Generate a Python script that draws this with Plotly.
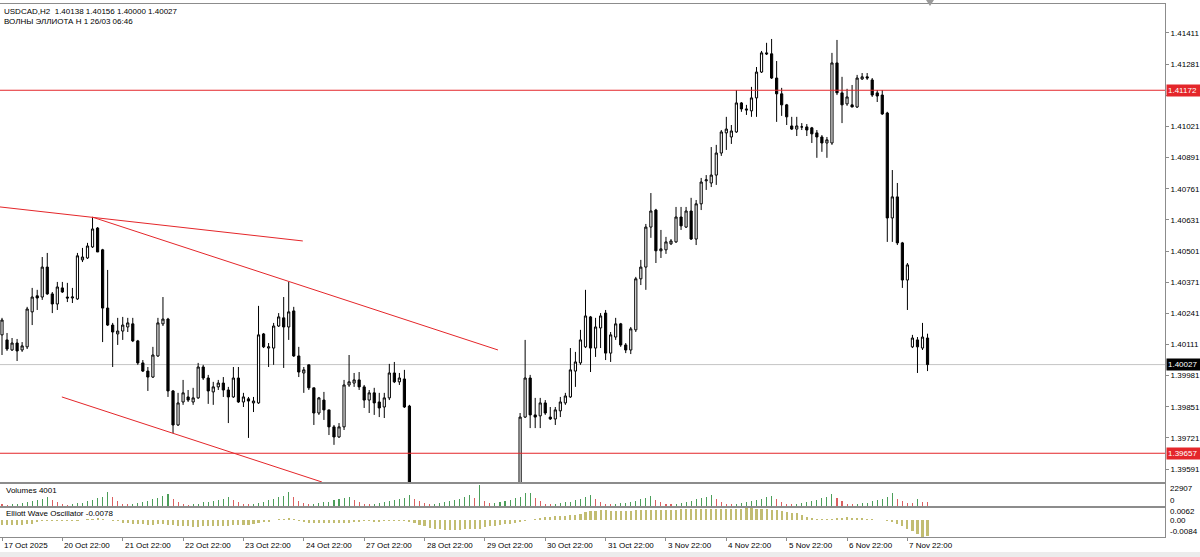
import plotly.graph_objects as go

# ---------------- DATA ----------------
header_line1 = "USDCAD,H2  1.40138 1.40156 1.40000 1.40027"
header_line2 = "ВОЛНЫ ЭЛЛИОТА H 1 26/03 06:46"

opens = [
    1.40151, 1.40130, 1.40088, 1.40117, 1.40088, 1.40101, 1.40247, 1.40314, 1.40309, 1.40434,
    1.40322, 1.40280, 1.40347, 1.40309, 1.40305, 1.40301, 1.40464, 1.40472, 1.40518, 1.40597,
    1.40506, 1.40263, 1.40192, 1.40155, 1.40167, 1.40184, 1.40197, 1.40126, 1.40034, 1.40000,
    1.39975, 1.40063, 1.40197, 1.40217, 1.39917, 1.39775, 1.39871, 1.39892, 1.39871, 1.39888,
    1.40017, 1.39971, 1.39913, 1.39934, 1.39950, 1.39921, 1.39892, 1.39971, 1.39871, 1.39884,
    1.39867, 1.39867, 1.40155, 1.40096, 1.40096, 1.40188, 1.40222, 1.40184, 1.40251, 1.40063,
    1.39992, 1.40026, 1.39930, 1.39825, 1.39879, 1.39838, 1.39767, 1.39725, 1.39767, 1.39942,
    1.39950, 1.39963, 1.39934, 1.39879, 1.39909, 1.39871, 1.39850, 1.39888, 1.39992, 1.39955,
    1.39967, 1.39854, 1.39320, 1.39360, 1.39340, 1.39310, 1.39350, 1.39380, 1.39360, 1.39320,
    1.39290, 1.39330, 1.39380, 1.39350, 1.39410, 1.39370, 1.39450, 1.39400, 1.39430, 1.39410,
    1.39440, 1.39460, 1.39430, 1.39470, 1.39808, 1.39971, 1.39817, 1.39813, 1.39867, 1.39808,
    1.39800, 1.39834, 1.39867, 1.39892, 1.40000, 1.40034, 1.40101, 1.40226, 1.40096, 1.40180,
    1.40242, 1.40075, 1.40142, 1.40197, 1.40109, 1.40088, 1.40172, 1.40385, 1.40434, 1.40601,
    1.40672, 1.40502, 1.40506, 1.40531, 1.40539, 1.40643, 1.40601, 1.40668, 1.40551, 1.40698,
    1.40794, 1.40785, 1.40818, 1.40910, 1.40994, 1.40977, 1.40998, 1.41119, 1.41094, 1.41086,
    1.41140, 1.41248, 1.41328, 1.41324, 1.41223, 1.41157, 1.41111, 1.41023, 1.41010, 1.41019,
    1.41019, 1.41015, 1.40994, 1.40977, 1.40952, 1.40952, 1.41286, 1.41161, 1.41115, 1.41111,
    1.41102, 1.41219, 1.41228, 1.41215, 1.41161, 1.41152, 1.41077, 1.40639, 1.40727, 1.40535,
    1.40380, 1.40101, 1.40130, 1.40096, 1.40138,
]
highs = [
    1.40222, 1.40159, 1.40138, 1.40134, 1.40121, 1.40268, 1.40347, 1.40339, 1.40476, 1.40493,
    1.40330, 1.40372, 1.40372, 1.40368, 1.40347, 1.40493, 1.40514, 1.40535, 1.40643, 1.40601,
    1.40510, 1.40422, 1.40201, 1.40222, 1.40226, 1.40222, 1.40222, 1.40130, 1.40046, 1.40017,
    1.40101, 1.40222, 1.40309, 1.40222, 1.39921, 1.39909, 1.39963, 1.39921, 1.39930, 1.40034,
    1.40026, 1.39984, 1.39955, 1.39963, 1.39975, 1.39934, 1.40017, 1.40017, 1.39909, 1.39892,
    1.39892, 1.40272, 1.40159, 1.40117, 1.40201, 1.40242, 1.40309, 1.40372, 1.40268, 1.40101,
    1.40017, 1.40026, 1.39930, 1.39892, 1.39913, 1.39838, 1.39775, 1.39783, 1.39963, 1.40067,
    1.39992, 1.39996, 1.39942, 1.39921, 1.39930, 1.39909, 1.39909, 1.40030, 1.40038, 1.39992,
    1.40005, 1.39859, 1.39400, 1.39420, 1.39390, 1.39370, 1.39410, 1.39440, 1.39400, 1.39380,
    1.39360, 1.39410, 1.39460, 1.39440, 1.39480, 1.39510, 1.39500, 1.39460, 1.39490, 1.39470,
    1.39500, 1.39510, 1.39500, 1.39825, 1.40130, 1.39984, 1.39888, 1.39888, 1.39879, 1.39850,
    1.39850, 1.39892, 1.39909, 1.40096, 1.40080, 1.40172, 1.40339, 1.40230, 1.40222, 1.40242,
    1.40255, 1.40163, 1.40222, 1.40201, 1.40117, 1.40184, 1.40393, 1.40464, 1.40614, 1.40743,
    1.40677, 1.40589, 1.40560, 1.40551, 1.40685, 1.40685, 1.40685, 1.40723, 1.40714, 1.40806,
    1.40818, 1.40935, 1.40944, 1.41006, 1.41061, 1.41027, 1.41173, 1.41123, 1.41111, 1.41186,
    1.41269, 1.41336, 1.41370, 1.41386, 1.41294, 1.41182, 1.41115, 1.41061, 1.41061, 1.41035,
    1.41031, 1.41019, 1.41006, 1.40985, 1.40977, 1.41328, 1.41382, 1.41228, 1.41178, 1.41194,
    1.41236, 1.41244, 1.41244, 1.41223, 1.41173, 1.41173, 1.41082, 1.40839, 1.40785, 1.40539,
    1.40451, 1.40151, 1.40142, 1.40201, 1.40156,
]
lows = [
    1.40067, 1.40084, 1.40084, 1.40042, 1.40080, 1.40092, 1.40192, 1.40255, 1.40297, 1.40318,
    1.40242, 1.40255, 1.40326, 1.40288, 1.40284, 1.40297, 1.40455, 1.40468, 1.40514, 1.40497,
    1.40121, 1.40188, 1.40017, 1.40109, 1.40130, 1.40163, 1.40121, 1.40026, 1.39996, 1.39917,
    1.39971, 1.40059, 1.40188, 1.39892, 1.39741, 1.39771, 1.39859, 1.39871, 1.39859, 1.39884,
    1.39963, 1.39863, 1.39859, 1.39921, 1.39892, 1.39783, 1.39888, 1.39867, 1.39850, 1.39721,
    1.39829, 1.39863, 1.40096, 1.40017, 1.40026, 1.40184, 1.40013, 1.40130, 1.40059, 1.39975,
    1.39909, 1.39921, 1.39775, 1.39817, 1.39796, 1.39733, 1.39692, 1.39721, 1.39754, 1.39934,
    1.39934, 1.39921, 1.39846, 1.39825, 1.39817, 1.39808, 1.39804, 1.39879, 1.39950, 1.39942,
    1.39846, 1.39250, 1.39260, 1.39300, 1.39280, 1.39260, 1.39310, 1.39330, 1.39290, 1.39250,
    1.39220, 1.39280, 1.39320, 1.39270, 1.39340, 1.39180, 1.39360, 1.39340, 1.39380, 1.39350,
    1.39390, 1.39400, 1.39380, 1.39410, 1.39804, 1.39762, 1.39762, 1.39762, 1.39817, 1.39796,
    1.39775, 1.39808, 1.39859, 1.39888, 1.39934, 1.40026, 1.40096, 1.39996, 1.40059, 1.40096,
    1.40046, 1.40038, 1.40130, 1.40101, 1.40075, 1.40071, 1.40163, 1.40359, 1.40339, 1.40556,
    1.40451, 1.40472, 1.40489, 1.40526, 1.40535, 1.40589, 1.40597, 1.40547, 1.40526, 1.40672,
    1.40756, 1.40768, 1.40777, 1.40898, 1.40923, 1.40948, 1.40994, 1.41082, 1.41069, 1.41061,
    1.41061, 1.41244, 1.41319, 1.41219, 1.41040, 1.41065, 1.41027, 1.41006, 1.40981, 1.41006,
    1.40981, 1.40952, 1.40890, 1.40915, 1.40890, 1.40944, 1.41152, 1.41035, 1.41107, 1.41102,
    1.41098, 1.41215, 1.41215, 1.41144, 1.41123, 1.41069, 1.40539, 1.40539, 1.40526, 1.40347,
    1.40255, 1.40096, 1.39992, 1.40088, 1.40000,
]
closes = [
    1.40213, 1.40092, 1.40117, 1.40084, 1.40105, 1.40259, 1.40309, 1.40305, 1.40434, 1.40322,
    1.40280, 1.40351, 1.40330, 1.40305, 1.40309, 1.40481, 1.40476, 1.40522, 1.40593, 1.40497,
    1.40263, 1.40192, 1.40163, 1.40167, 1.40192, 1.40201, 1.40126, 1.40034, 1.40000, 1.39975,
    1.40067, 1.40201, 1.40217, 1.39917, 1.39775, 1.39867, 1.39909, 1.39879, 1.39888, 1.40017,
    1.39971, 1.39917, 1.39934, 1.39950, 1.39921, 1.39892, 1.39971, 1.39871, 1.39892, 1.39875,
    1.39875, 1.40151, 1.40101, 1.40101, 1.40188, 1.40226, 1.40184, 1.40247, 1.40063, 1.39996,
    1.40005, 1.39930, 1.39825, 1.39888, 1.39838, 1.39767, 1.39725, 1.39767, 1.39942, 1.39955,
    1.39963, 1.39934, 1.39879, 1.39909, 1.39867, 1.39846, 1.39888, 1.39992, 1.39955, 1.39971,
    1.39850, 1.39320, 1.39360, 1.39340, 1.39310, 1.39350, 1.39380, 1.39360, 1.39320, 1.39290,
    1.39330, 1.39380, 1.39350, 1.39410, 1.39370, 1.39450, 1.39400, 1.39430, 1.39410, 1.39440,
    1.39460, 1.39430, 1.39470, 1.39808, 1.39971, 1.39817, 1.39808, 1.39867, 1.39825, 1.39800,
    1.39838, 1.39871, 1.39896, 1.40005, 1.40038, 1.40130, 1.40230, 1.40096, 1.40184, 1.40230,
    1.40075, 1.40151, 1.40197, 1.40109, 1.40088, 1.40176, 1.40385, 1.40434, 1.40601, 1.40668,
    1.40502, 1.40510, 1.40539, 1.40543, 1.40643, 1.40606, 1.40668, 1.40551, 1.40698, 1.40789,
    1.40798, 1.40818, 1.40910, 1.40998, 1.41010, 1.41002, 1.41119, 1.41094, 1.41090, 1.41140,
    1.41248, 1.41328, 1.41324, 1.41223, 1.41157, 1.41111, 1.41061, 1.41010, 1.41023, 1.41019,
    1.41006, 1.40990, 1.40977, 1.40952, 1.40965, 1.41286, 1.41161, 1.41111, 1.41144, 1.41102,
    1.41223, 1.41228, 1.41223, 1.41152, 1.41148, 1.41073, 1.40639, 1.40727, 1.40535, 1.40380,
    1.40443, 1.40138, 1.40101, 1.40142, 1.40027,
]
volumes = [
    2600, 1500, 2100, 2400, 3300, 4200, 5600, 6500, 7800, 9800, 6200, 4300,
    2300, 1600, 2000, 2800, 3600, 5200, 6300, 8200, 9500, 14500, 9200, 5600,
    2500, 1700, 2300, 3000, 4500, 5800, 7400, 8900, 10500, 12500, 7600, 4800,
    2200, 1500, 1900, 2600, 3800, 4600, 5900, 6800, 7900, 9600, 6400, 4100,
    2400, 1800, 2500, 3300, 4400, 6200, 7800, 9600, 11000, 14800, 9800, 5900,
    3000, 1900, 2300, 2700, 3900, 4800, 6100, 7200, 8300, 9700, 6500, 4200,
    2300, 1900, 2400, 3100, 4000, 5400, 6600, 7400, 8200, 11500, 7800, 5200,
    2700, 2000, 2600, 3400, 4300, 5200, 6400, 7600, 9800, 12000, 8500, 22907,
    5200, 3300, 3700, 4200, 5600, 6800, 8400, 9200, 13500, 14200, 8600, 5800,
    2600, 1900, 2300, 2900, 3800, 4800, 6100, 7700, 9500, 11500, 7200, 4500,
    2400, 1800, 2200, 2800, 3600, 4400, 5800, 7100, 8600, 11000, 6800, 4300,
    2500, 1700, 2300, 3000, 4100, 5600, 7000, 8200, 9700, 11600, 7400, 4800,
    2500, 1900, 2400, 3100, 4000, 5100, 6500, 7800, 9400, 10800, 7000, 4400,
    2400, 1700, 2200, 2900, 3800, 5000, 6700, 8100, 9600, 13200, 8300, 5300,
    2600, 1800, 2300, 2800, 3700, 4900, 6300, 7800, 9600, 13500, 8000, 5100,
    3400, 3000, 7600, 4800, 4001,
]
ewo = [
    -0.0022, -0.0023, -0.0024, -0.0024, -0.0023, -0.0021, -0.0017,
    -0.0006, -0.0004, -0.0004, -0.0005, -0.0004, -0.0004, -0.0005, -0.0004, -0.0002,
    0.0004, 0.0007, 0.0009, 0.0010, 0.0008,
    0.0003, -0.0001, -0.0003,
    -0.0012, -0.0015, -0.0017, -0.0019, -0.0021, -0.0022, -0.0022, -0.0021, -0.0020, -0.0022,
    -0.0025, -0.0028, -0.0030, -0.0031, -0.0032, -0.0032, -0.0031, -0.0030, -0.0030, -0.0029,
    -0.0028, -0.0027, -0.0026, -0.0025, -0.0024, -0.0022, -0.0020, -0.0015, -0.0010, -0.0006,
    0.0004, 0.0007, 0.0009, 0.0010, 0.0008,
    -0.0004, -0.0008, -0.0011, -0.0013, -0.0014, -0.0015, -0.0016, -0.0016, -0.0015, -0.0013, -0.0011,
    -0.0008, -0.0006, -0.0005, -0.0005, -0.0006, -0.0006, -0.0005, -0.0004, -0.0004, -0.0005,
    -0.0005, -0.0009, -0.0016,
    -0.0022, -0.0030, -0.0037, -0.0042, -0.0045, -0.0047, -0.0048, -0.0048, -0.0047, -0.0046,
    -0.0045, -0.0044, -0.0042,
    -0.0036, -0.0031, -0.0027, -0.0023, -0.0020, -0.0017, -0.0013, -0.0009, -0.0005, 0.0002,
    0.0008, 0.0012, 0.0016, 0.0019, 0.0021, 0.0023, 0.0025, 0.0027, 0.0030, 0.0035, 0.0042, 0.0048,
    0.0050, 0.0051, 0.0051, 0.0050, 0.0050, 0.0049, 0.0049, 0.0050, 0.0052, 0.0053, 0.0055, 0.0056,
    0.0056, 0.0055, 0.0055, 0.0055, 0.0056, 0.0057, 0.0057, 0.0057, 0.0058, 0.0058,
    0.0059, 0.0059, 0.0059, 0.0060, 0.0060, 0.0060, 0.0061, 0.0061, 0.0062, 0.0062,
    0.0061, 0.0060, 0.0058, 0.0055, 0.0052, 0.0048, 0.0044, 0.0040, 0.0036,
    0.0028, 0.0020, 0.0012, 0.0009, 0.0007, 0.0006, 0.0008, 0.0012, 0.0014, 0.0015,
    0.0014, 0.0012, 0.0010, 0.0008, 0.0006, 0.0004, 0.0002, -0.0002,
    -0.0008, -0.0018, -0.0030, -0.0043, -0.0055, -0.0068, -0.0084, -0.0078,
]

date_labels = ["17 Oct 2025", "20 Oct 22:00", "21 Oct 22:00", "22 Oct 22:00", "23 Oct 22:00",
               "24 Oct 22:00", "27 Oct 22:00", "28 Oct 22:00", "29 Oct 22:00", "30 Oct 22:00",
               "31 Oct 22:00", "3 Nov 22:00", "4 Nov 22:00", "5 Nov 22:00", "6 Nov 22:00",
               "7 Nov 22:00"]
date_label_bars = [0, 12, 24, 36, 48, 60, 72, 84, 96, 108, 120, 132, 144, 156, 168, 180]

price_ticks = [1.39591, 1.39721, 1.39851, 1.39981, 1.40111, 1.40241, 1.40371, 1.40501,
               1.40631, 1.40761, 1.40891, 1.41021, 1.41151, 1.41281, 1.41411]
red_levels = [1.41172, 1.39657]
bid_price = 1.40027

# trend lines drawn on the chart: (bar0, price0, bar1, price1)
trend_lines = [
    (-0.4, 1.40685, 59.8, 1.40543),
    (17.9, 1.40643, 98.6, 1.40088),
    (11.9, 1.39892, 63.6, 1.39537),
]

# ---------------- LAYOUT HELPERS ----------------
W, H = 1200, 557
FONT = "Liberation Sans, Arial, sans-serif"
AXIS_GRAY = "#8c8c8c"
RED = "#e4262a"


def py(px):
    return 1 - px / H


def pxx(px):
    return px / W


bars = list(range(len(closes)))
x_range = [-0.398, 231.21]
y_range = [1.39537, 1.41532]


def covered_by_label(v):
    # tick labels hidden behind the coloured price boxes
    return any(abs(v - lvl) < 0.00030 for lvl in red_levels + [bid_price])


tick_text = ["" if covered_by_label(v) else f"{v:.5f}" for v in price_ticks]

fig = go.Figure()

fig.add_trace(go.Candlestick(
    x=bars, open=opens, high=highs, low=lows, close=closes,
    increasing=dict(line=dict(color="#000000", width=1), fillcolor="#ffffff"),
    decreasing=dict(line=dict(color="#000000", width=1), fillcolor="#000000"),
    whiskerwidth=0, hoverinfo="skip", showlegend=False, xaxis="x", yaxis="y"))

vol_colors = ["#4c9e5a" if (i > 0 and volumes[i] > volumes[i - 1]) else "#db6060"
              for i in range(len(volumes))]
fig.add_trace(go.Bar(x=bars, y=volumes, width=0.21,
                     marker=dict(color=vol_colors, line=dict(width=0)),
                     hoverinfo="skip", showlegend=False, xaxis="x2", yaxis="y2"))

fig.add_trace(go.Bar(x=bars, y=ewo, width=0.42,
                     marker=dict(color="#c2bd72", line=dict(width=0)),
                     hoverinfo="skip", showlegend=False, xaxis="x3", yaxis="y3"))

frame = dict(showgrid=False, zeroline=False, showline=True, mirror=True,
             linecolor=AXIS_GRAY, linewidth=1, fixedrange=True)
xdom = [0, 1165 / W]

fig.update_layout(
    width=W, height=H, autosize=False,
    margin=dict(l=0, r=0, t=0, b=0, pad=0),
    paper_bgcolor="#ffffff", plot_bgcolor="#ffffff",
    showlegend=False, boxgap=0.38, bargap=0,
    font=dict(family=FONT, size=8, color="#000000"),
    xaxis=dict(domain=xdom, range=x_range, anchor="y", showticklabels=False, ticks="",
               rangeslider=dict(visible=False), **frame),
    xaxis2=dict(domain=xdom, range=x_range, anchor="y2", showticklabels=False, ticks="", **frame),
    xaxis3=dict(domain=xdom, range=x_range, anchor="y3", showticklabels=False,
                ticks="outside", ticklen=3, tickcolor=AXIS_GRAY, tickvals=date_label_bars, **frame),
    yaxis=dict(domain=[py(482), py(4)], range=y_range, anchor="x", side="right",
               tickvals=price_ticks, ticktext=tick_text,
               ticks="outside", ticklen=3, tickcolor=AXIS_GRAY, automargin=False,
               tickfont=dict(family=FONT, size=8, color="#000000"), **frame),
    yaxis2=dict(domain=[py(506), py(484)], range=[0, max(volumes) * 1.03], anchor="x2",
                side="right", showticklabels=False, ticks="", **frame),
    yaxis3=dict(domain=[py(537), py(508)], range=[min(ewo) * 1.02, max(ewo) * 1.03],
                anchor="x3", side="right", showticklabels=False, ticks="", **frame),
)

shapes = []
for lvl in red_levels:
    shapes.append(dict(type="line", xref="x", yref="y", x0=x_range[0], x1=x_range[1],
                       y0=lvl, y1=lvl, line=dict(color=RED, width=1)))
shapes.append(dict(type="line", xref="x", yref="y", x0=x_range[0], x1=x_range[1],
                   y0=bid_price, y1=bid_price, line=dict(color="#c4c4c4", width=1), layer="below"))
for (b0, p0, b1, p1) in trend_lines:
    shapes.append(dict(type="line", xref="x", yref="y", x0=b0, y0=p0, x1=b1, y1=p1,
                       line=dict(color=RED, width=1)))
# bottom tab strip
shapes.append(dict(type="rect", xref="paper", yref="paper", x0=0, x1=1, y0=0, y1=py(552),
                   fillcolor="#ececec", line=dict(width=0)))
# chart-shift marker at top
shapes.append(dict(type="path", xref="paper", yref="paper",
                   path=f"M {pxx(926)},{py(0)} L {pxx(934)},{py(0)} L {pxx(930)},{py(6)} Z",
                   fillcolor="#9a9a9a", line=dict(width=0)))
fig.update_layout(shapes=shapes)

ann = []
ann.append(dict(text=header_line1, xref="paper", yref="paper", x=pxx(2), y=py(11),
                xanchor="left", yanchor="middle", showarrow=False, font=dict(size=8)))
ann.append(dict(text=header_line2, xref="paper", yref="paper", x=pxx(2), y=py(21),
                xanchor="left", yanchor="middle", showarrow=False, font=dict(size=8)))
ann.append(dict(text=f"Volumes {volumes[-1]}", xref="paper", yref="paper", x=pxx(4), y=py(490),
                xanchor="left", yanchor="middle", showarrow=False, font=dict(size=8)))
ann.append(dict(text=f"Elliott Wave Oscillator {ewo[-1]:.4f}", xref="paper", yref="paper",
                x=pxx(4), y=py(513), xanchor="left", yanchor="middle", showarrow=False,
                font=dict(size=8)))
for txt, ypx in [(str(max(volumes)), 489), ("0", 500), (f"{max(ewo):.4f}", 511),
                 ("0.00", 520), (f"{min(ewo):.4f}", 531)]:
    ann.append(dict(text=txt, xref="paper", yref="paper", x=pxx(1168), y=py(ypx),
                    xanchor="left", yanchor="middle", showarrow=False, font=dict(size=8)))
for lvl in red_levels:
    ann.append(dict(text=f"{lvl:.5f}", xref="paper", yref="y", x=pxx(1166), y=lvl,
                    xanchor="left", yanchor="middle", showarrow=False, bgcolor=RED,
                    font=dict(size=8, color="#ffffff"), borderpad=1, width=32, align="left"))
ann.append(dict(text=f"{bid_price:.5f}", xref="paper", yref="y", x=pxx(1166), y=bid_price,
                xanchor="left", yanchor="middle", showarrow=False, bgcolor="#000000",
                font=dict(size=8, color="#ffffff"), borderpad=1, width=32, align="left"))
for lbl, b in zip(date_labels, date_label_bars):
    ann.append(dict(text=lbl, xref="x3", yref="paper", x=b, y=py(545),
                    xanchor="left", yanchor="middle", showarrow=False, font=dict(size=8)))
fig.update_layout(annotations=ann)

fig.write_html("out.html",
               config={"displayModeBar": False, "staticPlot": True},
               post_script="document.body.style.margin='0';document.body.style.overflow='hidden';")
